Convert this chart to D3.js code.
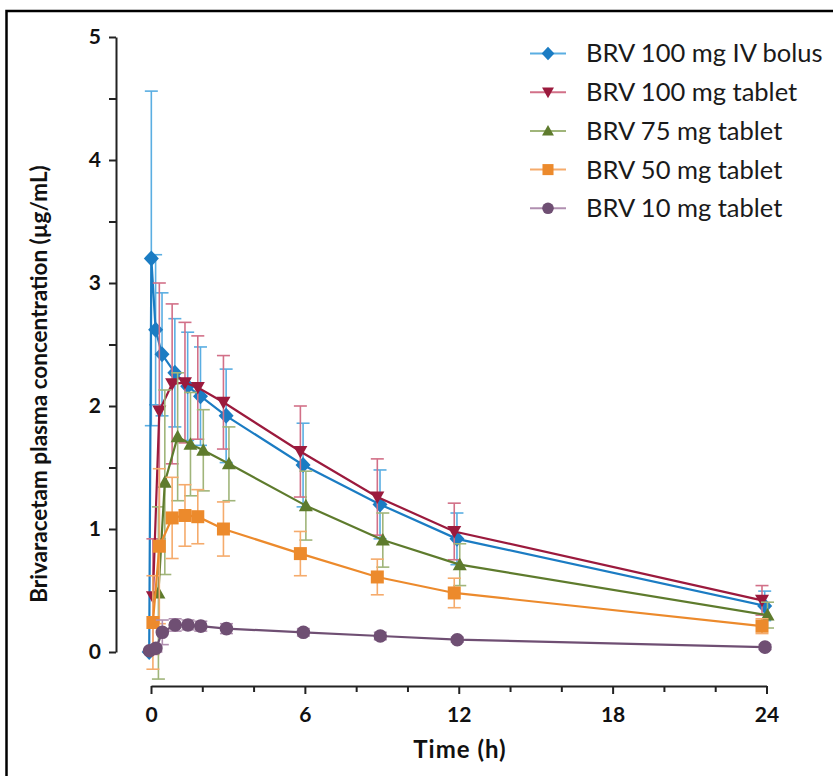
<!DOCTYPE html>
<html>
<head>
<meta charset="utf-8">
<script src="https://cdn.jsdelivr.net/npm/d3@7"></script>
<style>
  html, body { margin: 0; padding: 0; background: #fff; }
  svg text { font-family: Lato, "Open Sans", sans-serif; }
</style>
</head>
<body>
<div id="chart"></div>
<script>
// Nominal sampling times (h)
const tabletTimes = [0.25, 0.5, 1, 1.5, 2, 3, 6, 9, 12, 24];
const ivTimes = [0, 0.083, 0.25, 0.5, 1, 1.5, 2, 3, 6, 9, 12, 24];
const lowDoseTimes = [0, 0.25, 0.5, 1, 1.5, 2, 3, 6, 9, 12, 24];

// Mean concentrations (µg/mL) and SD
const iv100Mean = [0, 3.2, 2.62, 2.42, 2.27, 2.16, 2.08, 1.92, 1.52, 1.2, 0.92, 0.375];
const iv100Sd = [0, 1.36, 0.61, 0.5, 0.44, 0.44, 0.4, 0.38, 0.34, 0.28, 0.21, 0.12];
const tab100Mean = [0.45, 1.96, 2.18, 2.19, 2.15, 2.03, 1.63, 1.26, 0.98, 0.42];
const tab100Sd = [0.47, 1.04, 0.65, 0.49, 0.42, 0.38, 0.37, 0.31, 0.23, 0.12];
const tab75Mean = [0.48, 1.38, 1.75, 1.69, 1.64, 1.53, 1.19, 0.91, 0.71, 0.3];
const tab75Sd = [0.7, 0.75, 0.52, 0.42, 0.33, 0.3, 0.28, 0.22, 0.17, 0.105];
const tab50Mean = [0.24, 0.86, 1.09, 1.11, 1.1, 1.0, 0.8, 0.61, 0.48, 0.21];
const tab50Sd = [0.38, 0.63, 0.33, 0.25, 0.22, 0.22, 0.18, 0.145, 0.12, 0.06];
const tab10Mean = [0.01, 0.03, 0.16, 0.22, 0.22, 0.21, 0.19, 0.16, 0.13, 0.1, 0.04];
const tab10Sd = [0, 0.03, 0.1, 0.05, 0.04, 0.04, 0.04, 0.03, 0.03, 0.02, 0.02];

const seriesNames = [
  "BRV 100 mg IV bolus",
  "BRV 100 mg tablet",
  "BRV 75 mg tablet",
  "BRV 50 mg tablet",
  "BRV 10 mg tablet"
];

const xTicks = [0, 6, 12, 18, 24];
const yTicks = [0, 1, 2, 3, 4, 5];

const width = 833, height = 776;

// marker shapes, drawn around 0,0
function markerPath(shape, s) {
  if (shape === "diamond")
    return `M0,${-8 * s}L${7.5 * s},0L0,${8 * s}L${-7.5 * s},0Z`;
  if (shape === "down")
    return `M${-7 * s},${-5.5 * s}L${7 * s},${-5.5 * s}L0,${7 * s}Z`;
  if (shape === "up")
    return `M${-7 * s},${5.5 * s}L${7 * s},${5.5 * s}L0,${-7 * s}Z`;
  if (shape === "square")
    return `M${-6.5 * s},${-6.5 * s}h${13 * s}v${13 * s}h${-13 * s}Z`;
  const r = 6.8 * s;
  return `M${r},0A${r},${r} 0 1,1 ${-r},0A${r},${r} 0 1,1 ${r},0Z`;
}

const series = [
  { name: seriesNames[0], t: ivTimes, m: iv100Mean, sd: iv100Sd, shape: "diamond", color: "#1b7cc3", bar: "#5aaee2", dx: -1.8 },
  { name: seriesNames[1], t: tabletTimes, m: tab100Mean, sd: tab100Sd, shape: "down", color: "#9b1a3d", bar: "#d27088", dx: -4.5 },
  { name: seriesNames[2], t: tabletTimes, m: tab75Mean, sd: tab75Sd, shape: "up", color: "#5e7b2d", bar: "#a0b57a", dx: 1 },
  { name: seriesNames[3], t: tabletTimes, m: tab50Mean, sd: tab50Sd, shape: "square", color: "#ec8a2c", bar: "#f5ab6c", dx: -4.5 },
  { name: seriesNames[4], t: lowDoseTimes, m: tab10Mean, sd: tab10Sd, shape: "circle", color: "#6f4f73", bar: "#b08fb0", dx: -1.5 }
];

const svg = d3.select("#chart").append("svg")
  .attr("width", width)
  .attr("height", height);

// image frame (left and top edges visible)
svg.append("path")
  .attr("d", `M6.5,${height}V11H${width}`)
  .attr("fill", "none")
  .attr("stroke", "#000")
  .attr("stroke-width", 2.5);

const x = d3.scaleLinear().domain([0, 24]).range([151, 766.5]);
const y = d3.scaleLinear().domain([0, 5]).range([652, 37]);

// y axis
const yAxis = svg.append("g")
  .attr("transform", "translate(116,0)")
  .call(d3.axisLeft(y).tickValues(d3.range(0, 5.01, 0.5)).tickSize(7).tickSizeOuter(0)
    .tickFormat(d => yTicks.includes(d) ? d : ""));
yAxis.select(".domain").attr("stroke", "#222").attr("stroke-width", 2);
yAxis.selectAll(".tick line").attr("stroke", "#222").attr("stroke-width", 2);
yAxis.selectAll(".tick text")
  .attr("x", -15)
  .attr("font-size", 21)
  .attr("font-weight", "bold")
  .attr("fill", "#111");

// x axis
const xAxis = svg.append("g")
  .attr("transform", "translate(0,686)")
  .call(d3.axisBottom(x).tickValues(d3.range(0, 25, 2)).tickSize(7).tickSizeOuter(0)
    .tickFormat(d => xTicks.includes(d) ? d : ""));
xAxis.select(".domain").attr("stroke", "#222").attr("stroke-width", 2);
xAxis.selectAll(".tick line").attr("stroke", "#222").attr("stroke-width", 2)
  .attr("y2", d => xTicks.includes(d) ? 8 : 6);
xAxis.selectAll(".tick text")
  .attr("y", 21)
  .attr("font-size", 21)
  .attr("font-weight", "bold")
  .attr("fill", "#111");

// axis titles
svg.append("text")
  .attr("x", 460)
  .attr("y", 758)
  .attr("text-anchor", "middle")
  .attr("font-size", 24)
  .attr("letter-spacing", 1)
  .attr("font-weight", "bold")
  .attr("fill", "#111")
  .text("Time (h)");

svg.append("text")
  .attr("transform", "translate(47,384) rotate(-90)")
  .attr("text-anchor", "middle")
  .attr("font-size", 22.5)
  .attr("font-weight", "bold")
  .attr("fill", "#111")
  .text("Brivaracetam plasma concentration (µg/mL)");

// series: error bars, line, markers
series.forEach(s => {
  const pts = s.t.map((t, i) => ({ t: t, m: s.m[i], sd: s.sd[i] }));
  const g = svg.append("g");
  const px = d => x(d.t) + s.dx;

  const eb = g.selectAll(".err").data(pts.filter(d => d.sd > 0)).enter().append("g")
    .attr("stroke", s.bar)
    .attr("stroke-width", 1.6);
  eb.append("line")
    .attr("x1", px).attr("x2", px)
    .attr("y1", d => y(d.m - d.sd)).attr("y2", d => y(d.m + d.sd));
  eb.append("line")
    .attr("x1", d => px(d) - 6.5).attr("x2", d => px(d) + 6.5)
    .attr("y1", d => y(d.m + d.sd)).attr("y2", d => y(d.m + d.sd));
  eb.append("line")
    .attr("x1", d => px(d) - 6.5).attr("x2", d => px(d) + 6.5)
    .attr("y1", d => y(d.m - d.sd)).attr("y2", d => y(d.m - d.sd));

  g.append("path")
    .datum(pts)
    .attr("fill", "none")
    .attr("stroke", s.color)
    .attr("stroke-width", 2.2)
    .attr("d", d3.line().x(px).y(d => y(d.m)));

  g.selectAll(".pt").data(pts).enter().append("path")
    .attr("transform", d => `translate(${px(d)},${y(d.m)})`)
    .attr("d", markerPath(s.shape, 1))
    .attr("fill", s.color);
});

// legend
const legend = svg.append("g");
series.forEach((s, i) => {
  const ly = 53.5 + i * 38.7;
  legend.append("line")
    .attr("x1", 530).attr("x2", 566)
    .attr("y1", ly).attr("y2", ly)
    .attr("stroke", s.bar)
    .attr("stroke-width", 2);
  legend.append("path")
    .attr("transform", `translate(548,${ly})`)
    .attr("d", markerPath(s.shape, 0.85))
    .attr("fill", s.color);
  legend.append("text")
    .attr("x", 586)
    .attr("y", ly)
    .attr("dy", "0.35em")
    .attr("font-size", 25.5)
    .attr("fill", "#1a1a1a")
    .text(s.name);
});
</script>
</body>
</html>
